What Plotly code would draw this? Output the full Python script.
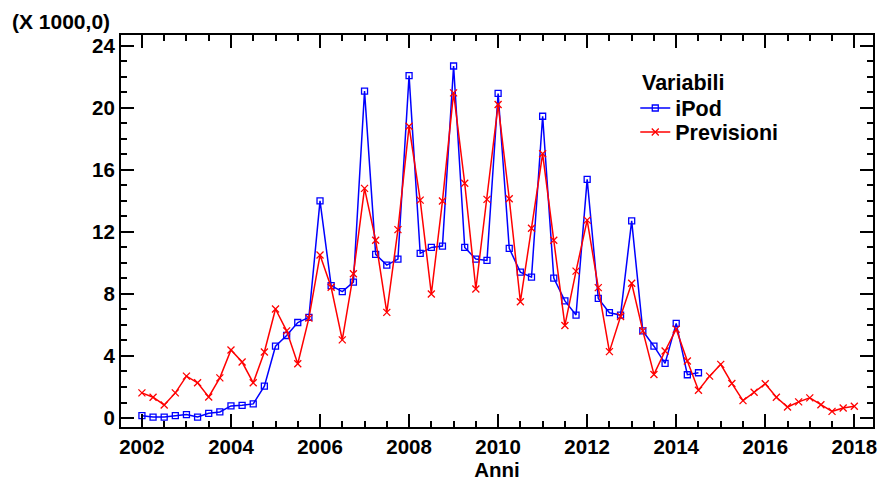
import plotly.graph_objects as go

# Quarterly data (X 1000)
ipod_start = 2002.0
ipod = [0.15, 0.06, 0.06, 0.15,
        0.22, 0.06, 0.30, 0.39,
        0.78, 0.82, 0.91, 2.05,
        4.63, 5.32, 6.16, 6.49,
        14.0, 8.54, 8.15, 8.76,
        21.08, 10.55, 9.86, 10.25,
        22.08, 10.62, 11.0, 11.09,
        22.70, 11.0, 10.25, 10.16,
        20.93, 10.94, 9.41, 9.08,
        19.46, 9.02, 7.55, 6.64,
        15.39, 7.71, 6.79, 6.64,
        12.71, 5.62, 4.63, 3.52,
        6.10, 2.79, 2.92]

previsioni = [1.62, 1.34, 0.84, 1.62,
              2.70, 2.27, 1.36, 2.59,
              4.39, 3.61, 2.27, 4.26,
              7.03, 5.62, 3.50, 6.44,
              10.51, 8.43, 5.04, 9.30,
              14.81, 11.46, 6.81, 12.15,
              18.81, 14.05, 8.0, 13.99,
              20.97, 15.14, 8.32, 14.10,
              20.22, 14.14, 7.50, 12.24,
              17.04, 11.46, 5.97, 9.47,
              12.76, 8.41, 4.28, 6.55,
              8.69, 5.62, 2.81, 4.32,
              5.73, 3.68, 1.79, 2.70,
              3.46, 2.23, 1.12, 1.66,
              2.21, 1.34, 0.71, 1.04,
              1.30, 0.86, 0.43, 0.65,
              0.76]

x_ticks = [2002, 2004, 2006, 2008, 2010, 2012, 2014, 2016, 2018]
y_ticks = [0, 4, 8, 12, 16, 20, 24]

x_ipod = [ipod_start + 0.25 * i for i in range(len(ipod))]
x_prev = [ipod_start + 0.25 * i for i in range(len(previsioni))]

FONT = "Liberation Sans, Arial, sans-serif"
LEG_FONT = dict(family=FONT, size=21.5, color="black", weight="bold")

fig = go.Figure()
fig.add_trace(go.Scatter(
    x=x_ipod, y=ipod, name="iPod", mode="lines+markers", legend="legend",
    line=dict(color="#0000ff", width=1.5),
    marker=dict(symbol="square-open", size=6, color="#0000ff",
                line=dict(color="#0000ff", width=1.3)),
))
fig.add_trace(go.Scatter(
    x=x_prev, y=previsioni, name="Previsioni", mode="lines+markers", legend="legend2",
    line=dict(color="#ff0000", width=1.5),
    marker=dict(symbol="x-thin", size=7, color="#ff0000",
                line=dict(color="#ff0000", width=1.3)),
))

axis_common = dict(
    showgrid=False, zeroline=False, showline=True, linecolor="black",
    linewidth=2, mirror="allticks", ticks="inside", tickcolor="black",
    ticklen=13, tickwidth=1.5, ticklabeloverflow="allow",
    tickfont=dict(family=FONT, size=20.5, color="black", weight="bold"),
)

fig.update_xaxes(
    range=[2001.53, 2018.42], tickmode="array", tickvals=x_ticks,
    ticktext=[str(v) for v in x_ticks],
    minor=dict(dtick=0.5, tick0=2002, ticks="inside", ticklen=6,
               tickwidth=1.5, tickcolor="black", showgrid=False),
    title=dict(text="Anni", font=dict(family=FONT, size=20.5, color="black", weight="bold"),
               standoff=6),
    **axis_common,
)
fig.update_yaxes(
    range=[-0.58, 24.7], tickmode="array", tickvals=y_ticks,
    ticktext=[str(v) for v in y_ticks],
    minor=dict(dtick=1, tick0=0, ticks="inside", ticklen=6,
               tickwidth=1.5, tickcolor="black", showgrid=False),
    **axis_common,
)

fig.add_annotation(
    text="(X 1000,0)", xref="paper", yref="paper", x=-0.148, y=1.0,
    xanchor="left", yanchor="bottom", showarrow=False, yshift=0,
    font=dict(family=FONT, size=21, color="black", weight="bold"),
)
fig.add_annotation(
    text="Variabili", xref="paper", yref="paper", x=(643 - 121) / 756, y=(427 - 83) / 392,
    xanchor="left", yanchor="middle", showarrow=False,
    font=LEG_FONT,
)

leg_x = (638 - 121) / 756
fig.update_layout(
    width=879, height=482,
    margin=dict(l=121, r=2, t=35, b=55),
    paper_bgcolor="white", plot_bgcolor="white",
    font=dict(family=FONT, size=20, color="black", weight="bold"),
    showlegend=True,
    legend=dict(x=leg_x, y=(427 - 108) / 392, xanchor="left", yanchor="middle",
                bgcolor="rgba(0,0,0,0)", font=LEG_FONT),
    legend2=dict(x=leg_x, y=(427 - 132) / 392, xanchor="left", yanchor="middle",
                 bgcolor="rgba(0,0,0,0)", font=LEG_FONT),
)

fig.write_html("out.html")
